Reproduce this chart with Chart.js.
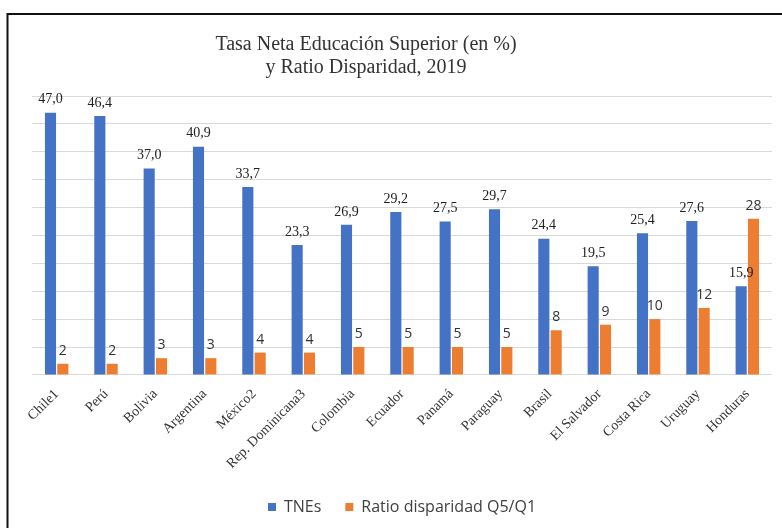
<!DOCTYPE html>
<html>
<head>
<meta charset="utf-8">
<script src="https://cdn.jsdelivr.net/npm/chart.js@4"></script>
<style>
  html, body { margin: 0; padding: 0; background: #fff; }
  #wrap { position: relative; width: 782px; height: 528px; }
</style>
</head>
<body>
<div id="wrap"><canvas id="chart" width="782" height="528"></canvas></div>
<script>
// Datos del gráfico
const categories = ['Chile1', 'Perú', 'Bolivia', 'Argentina', 'México2', 'Rep. Dominicana3', 'Colombia',
    'Ecuador', 'Panamá', 'Paraguay', 'Brasil', 'El Salvador', 'Costa Rica', 'Uruguay', 'Honduras'];
const tnes = [47.0, 46.4, 37.0, 40.9, 33.7, 23.3, 26.9, 29.2, 27.5, 29.7, 24.4, 19.5, 25.4, 27.6, 15.9];
const ratio = [2, 2, 3, 3, 4, 4, 5, 5, 5, 5, 8, 9, 10, 12, 28];
const titleLines = ['Tasa Neta Educación Superior (en %)', 'y Ratio Disparidad, 2019'];

const BLUE = '#4472C4';
const ORANGE = '#ED7D31';

// Marco, título y etiquetas de datos
const framePlugin = {
    id: 'frame',
    beforeDraw(chart) {
        const ctx = chart.ctx;
        ctx.save();
        ctx.fillStyle = '#fff';
        ctx.fillRect(0, 0, chart.width, chart.height);
        ctx.strokeStyle = '#111';
        ctx.lineWidth = 2;
        ctx.beginPath();
        ctx.moveTo(7.5, chart.height);
        ctx.lineTo(7.5, 14);
        ctx.lineTo(chart.width, 14);
        ctx.stroke();
        ctx.restore();
    },
    afterDraw(chart) {
        const ctx = chart.ctx;
        ctx.save();
        ctx.fillStyle = '#333';
        ctx.font = '20px "Liberation Serif", "Times New Roman", serif';
        ctx.textAlign = 'center';
        ctx.textBaseline = 'middle';
        ctx.fillText(titleLines[0], 366, 45);
        ctx.fillText(titleLines[1], 366, 68);
        ctx.restore();
    }
};

const labelPlugin = {
    id: 'valueLabels',
    afterDatasetsDraw(chart) {
        const ctx = chart.ctx;
        ctx.save();
        ctx.textAlign = 'center';
        ctx.textBaseline = 'bottom';
        chart.data.datasets.forEach((ds, i) => {
            const meta = chart.getDatasetMeta(i);
            meta.data.forEach((bar, j) => {
                let txt;
                if (i === 0) {
                    ctx.font = '14px "Liberation Serif", "Times New Roman", serif';
                    ctx.fillStyle = '#222';
                    txt = ds.data[j].toFixed(1).replace('.', ',');
                } else {
                    ctx.font = '14px "Open Sans", sans-serif';
                    ctx.fillStyle = '#333';
                    txt = String(ds.data[j]);
                }
                ctx.fillText(txt, bar.x, bar.y - 6);
            });
        });
        ctx.restore();
    }
};

const ctx = document.getElementById('chart').getContext('2d');
new Chart(ctx, {
    type: 'bar',
    data: {
        labels: categories,
        datasets: [
            {
                label: 'TNEs',
                data: tnes,
                backgroundColor: BLUE,
                categoryPercentage: 0.5,
                barPercentage: 0.9
            },
            {
                label: 'Ratio disparidad Q5/Q1',
                data: ratio,
                backgroundColor: ORANGE,
                categoryPercentage: 0.5,
                barPercentage: 0.9
            }
        ]
    },
    options: {
        responsive: false,
        animation: false,
        layout: {
            padding: { left: 32, right: 10, top: 96, bottom: 3 }
        },
        scales: {
            x: {
                grid: { display: false },
                border: { display: false },
                ticks: {
                    color: '#333',
                    font: { family: '"Liberation Serif", "Times New Roman", serif', size: 14 },
                    minRotation: 45,
                    maxRotation: 45,
                    autoSkip: false
                }
            },
            y: {
                min: 0,
                max: 50,
                border: { display: false },
                grid: { color: '#d9d9d9', drawTicks: false },
                ticks: { display: false, stepSize: 5 }
            }
        },
        plugins: {
            title: { display: false },
            tooltip: { enabled: false },
            legend: {
                position: 'bottom',
                fullSize: false,
                labels: {
                    boxWidth: 8,
                    boxHeight: 8,
                    padding: 24,
                    color: '#404040',
                    font: { family: '"Open Sans", sans-serif', size: 16 }
                }
            }
        }
    },
    plugins: [framePlugin, labelPlugin]
});
</script>
</body>
</html>
